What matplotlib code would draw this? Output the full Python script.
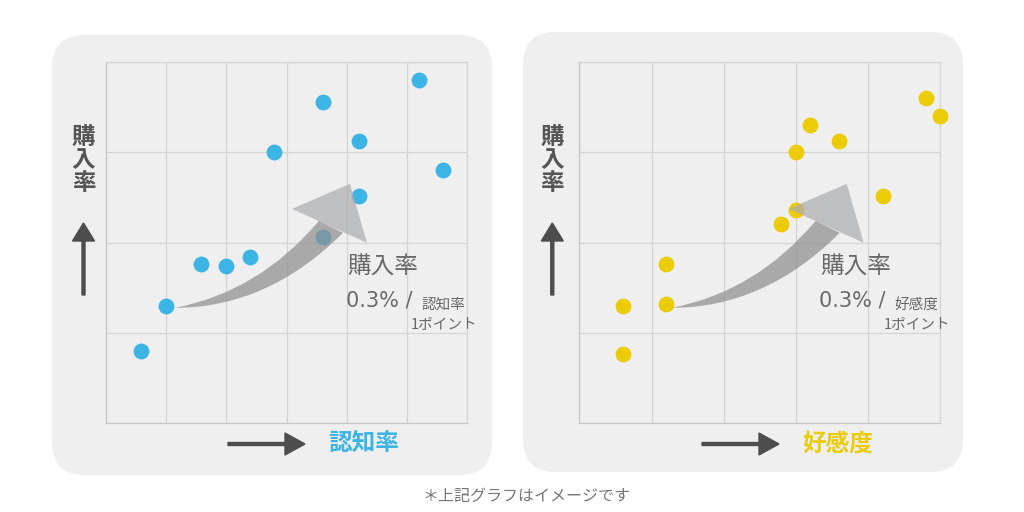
import matplotlib
matplotlib.use('Agg')
import matplotlib.pyplot as plt
from matplotlib.patches import FancyBboxPatch, FancyArrow, PathPatch
from matplotlib.path import Path

plt.rcParams['font.family'] = ['Noto Sans CJK JP', 'DejaVu Sans']

# left chart: 認知率 vs 購入率
aw_x = [0.58, 1.0, 1.58, 2.0, 2.4, 2.8, 3.6, 3.6, 4.2, 4.2, 5.2, 5.6]
aw_y = [0.8, 1.3, 1.76, 1.74, 1.84, 3.0, 3.56, 2.06, 3.12, 2.52, 3.8, 2.8]
# right chart: 好感度 vs 購入率
fav_x = [0.6, 0.6, 1.2, 1.2, 2.8, 3.0, 3.0, 3.2, 3.6, 4.2, 4.8, 5.0]
fav_y = [1.3, 0.76, 1.76, 1.32, 2.2, 2.36, 3.0, 3.3, 3.12, 2.52, 3.6, 3.4]

x_labels = ['認知率', '好感度']
y_label = '購入率'
rate_text = '0.3% /'
point_text = '1ポイント'
footer = '＊上記グラフはイメージです'

BLUE = '#3cb4e5'
YELLOW = '#eccb07'
GRID = '#d4d4d4'
PANEL = '#efefef'

W, H = 1024, 512
fig = plt.figure(figsize=(W / 100, H / 100), dpi=100)
fig.patch.set_facecolor('white')

# arrow shape (axes fraction, relative to tail)
def arrow_patches(ax, tx, ty):
    s = 1 / 361
    def p(dx, dy):
        return (tx + dx * s, ty + dy * s)
    body = Path([p(0, 0), p(93, 0), p(168, 75), p(144, 87), p(84, 16), p(0, 0), p(0, 0)],
                [Path.MOVETO, Path.CURVE3, Path.CURVE3, Path.LINETO,
                 Path.CURVE3, Path.CURVE3, Path.CLOSEPOLY])
    head = Path([p(192, 65), p(175, 124), p(117, 99), p(192, 65)],
                [Path.MOVETO, Path.LINETO, Path.LINETO, Path.CLOSEPOLY])
    ax.add_patch(PathPatch(body, transform=ax.transAxes, facecolor='#8e8f90',
                           edgecolor='none', alpha=0.72, zorder=4, clip_on=False))
    ax.add_patch(PathPatch(head, transform=ax.transAxes, facecolor='#acadae',
                           edgecolor='none', alpha=0.72, zorder=4, clip_on=False))


panels = [
    dict(px=52, py=35, ax_left=106, xs=aw_x, ys=aw_y, xmax=6, color=BLUE,
         tail=(0.191, 0.319), lab=x_labels[0], arrow_x=228, ylab_x=83.5),
    dict(px=523, py=32, ax_left=579.3, xs=fav_x, ys=fav_y, xmax=5, color=YELLOW,
         tail=(0.256, 0.319), lab=x_labels[1], arrow_x=702, ylab_x=552.3),
]

for pn in panels:
    # rounded background panel (inches)
    bg = FancyBboxPatch((pn['px'] / 100, (H - pn['py'] - 440) / 100), 4.4, 4.4,
                        boxstyle='round,pad=0,rounding_size=0.33',
                        transform=fig.dpi_scale_trans, facecolor=PANEL,
                        edgecolor='none', zorder=-1)
    fig.patches.append(bg)

    ax = fig.add_axes([pn['ax_left'] / W, (H - 423) / H, 361 / W, 361 / H])
    ax.set_facecolor('none')
    ax.set_xlim(0, pn['xmax'])
    ax.set_ylim(0, 4)
    ax.set_xticks(range(pn['xmax'] + 1))
    ax.set_yticks(range(5))
    ax.tick_params(length=0, labelbottom=False, labelleft=False)
    ax.grid(True, color=GRID, linewidth=0.9)
    for sp in ax.spines.values():
        sp.set_color(GRID)
        sp.set_linewidth(0.9)
    ax.spines['left'].set_color('#c6c6c6')
    ax.spines['bottom'].set_color('#c6c6c6')

    ax.scatter(pn['xs'], pn['ys'], s=130, color=pn['color'], linewidths=0,
               zorder=3, clip_on=False)
    arrow_patches(ax, *pn['tail'])

    ax.text(0.668, 0.432, y_label, transform=ax.transAxes, fontsize=17,
            color='#686868', ha='left', va='center', zorder=5)
    ax.text(0.664, 0.338, rate_text, transform=ax.transAxes, fontsize=15,
            family=['DejaVu Sans'], color='#6a6a6a',
            ha='left', va='center', zorder=5)
    ax.text(0.874, 0.327, pn['lab'], transform=ax.transAxes, fontsize=10.5,
            color='#686868', ha='left', va='center', zorder=5)
    ax.text(0.843, 0.272, point_text, transform=ax.transAxes, fontsize=10.5,
            color='#686868', ha='left', va='center', zorder=5)

    # y axis label, stacked vertically, and up arrow
    for i, ch in enumerate(y_label):
        fig.text(pn['ylab_x'] / W, 1 - (137 + 23 * i) / H, ch, fontsize=17,
                 fontweight='bold', color='#555555', ha='center', va='center')
    fig.add_artist(FancyArrow(pn['ylab_x'] / 100, (H - 295) / 100, 0, 0.72,
                              width=0.03, head_width=0.22, head_length=0.18,
                              length_includes_head=True, color='#4d4d4d',
                              transform=fig.dpi_scale_trans))
    # x axis arrow and label
    fig.add_artist(FancyArrow(pn['arrow_x'] / 100, (H - 444) / 100, 0.77, 0,
                              width=0.03, head_width=0.22, head_length=0.2,
                              length_includes_head=True, color='#4d4d4d',
                              transform=fig.dpi_scale_trans))
    fig.text((pn['arrow_x'] + 100) / W, 1 - 444 / H, pn['lab'], fontsize=17,
             fontweight='bold', color=pn['color'], ha='left', va='center')

fig.text(527 / W, 1 - 496 / H, footer, fontsize=11.5, color='#777777',
         ha='center', va='center')

fig.savefig('out.png', dpi=100, facecolor='white')
